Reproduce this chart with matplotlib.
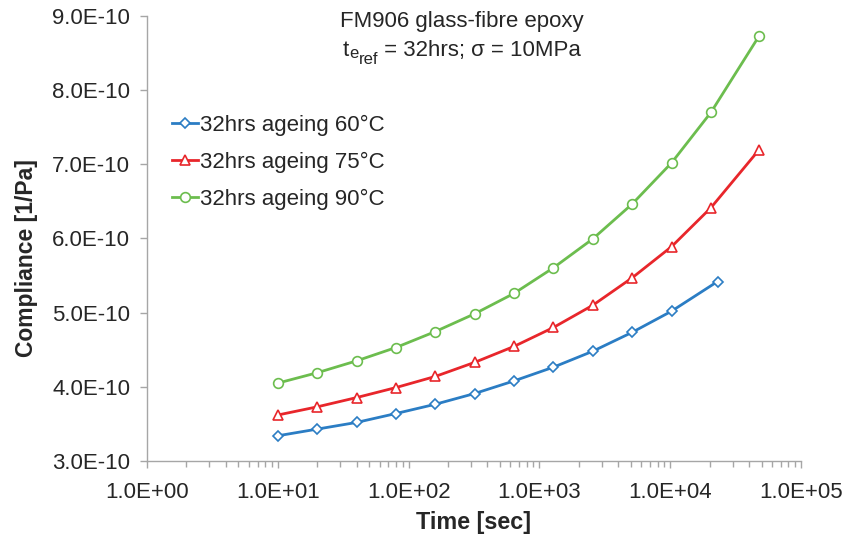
import matplotlib
matplotlib.use("Agg")
import matplotlib.pyplot as plt
from matplotlib.transforms import IdentityTransform
from matplotlib.ticker import FixedLocator, FuncFormatter, LogLocator, NullFormatter

plt.rcParams["font.family"] = ["Liberation Sans", "DejaVu Sans"]

# Creep compliance of FM906 glass-fibre epoxy after 32 hrs ageing
time_60 = [10, 20, 40, 80, 160, 320, 640, 1280, 2560, 5120, 10240, 23000]
comp_60 = [3.34, 3.43, 3.52, 3.64, 3.765, 3.91, 4.08, 4.265, 4.48, 4.735, 5.02, 5.42]

time_75 = [10, 20, 40, 80, 160, 320, 640, 1280, 2560, 5120, 10240, 20480, 48000]
comp_75 = [3.62, 3.73, 3.855, 3.99, 4.14, 4.33, 4.545, 4.80, 5.10, 5.47, 5.89, 6.415, 7.20]

time_90 = [10, 20, 40, 80, 160, 320, 640, 1280, 2560, 5120, 10240, 20480, 48000]
comp_90 = [4.05, 4.19, 4.35, 4.53, 4.745, 4.985, 5.26, 5.605, 5.995, 6.465, 7.02, 7.70, 8.735]

scale = 1e-10
labels = ["32hrs ageing 60°C", "32hrs ageing 75°C", "32hrs ageing 90°C"]
colors = ["#2b7dc4", "#e8262b", "#6cbd4e"]
markers = ["D", "^", "o"]
msizes = [5.0, 7.0, 7.0]

y_ticks = [3e-10, 4e-10, 5e-10, 6e-10, 7e-10, 8e-10, 9e-10]
x_ticks = [1e0, 1e1, 1e2, 1e3, 1e4, 1e5]

W, H = 847, 535
txt_col = "#262626"

fig = plt.figure(figsize=(W / 100, H / 100), dpi=100)
ax = fig.add_axes([147 / W, 1 - 461 / H, 654 / W, 445 / H])

series = [(time_60, comp_60), (time_75, comp_75), (time_90, comp_90)]
for (t, c), lab, col, mk, ms in zip(series, labels, colors, markers, msizes):
    ax.plot(t, [v * scale for v in c], color=col, lw=2.0, marker=mk, ms=ms,
            mfc="white", mec=col, mew=1.2, label=lab)

ax.set_xscale("log")
ax.set_xlim(1e0, 1e5)
ax.set_ylim(3e-10, 9e-10)

ax.xaxis.set_major_locator(FixedLocator(x_ticks))
ax.xaxis.set_minor_locator(LogLocator(base=10, subs=range(2, 10), numticks=20))
ax.xaxis.set_minor_formatter(NullFormatter())
ax.xaxis.set_major_formatter(FuncFormatter(lambda v, p: f"{v:.1E}"))
ax.yaxis.set_major_locator(FixedLocator(y_ticks))
ax.yaxis.set_major_formatter(FuncFormatter(lambda v, p: f"{v:.1E}"))

axis_col = "#a6a6a6"
for side in ["top", "right"]:
    ax.spines[side].set_visible(False)
for side in ["left", "bottom"]:
    ax.spines[side].set_color(axis_col)
    ax.spines[side].set_linewidth(1.0)

ax.tick_params(axis="both", which="major", direction="out", length=5, width=1,
               color=axis_col, labelsize=16, labelcolor=txt_col)
ax.tick_params(axis="x", which="major", pad=10)
ax.tick_params(axis="y", which="major", pad=7)
ax.tick_params(axis="x", which="minor", direction="out", length=4, width=1, color=axis_col)

ax.set_xlabel("Time [sec]", fontsize=16.8, fontweight="bold", color=txt_col, labelpad=6)
ax.set_ylabel("Compliance [1/Pa]", fontsize=16.5, fontweight="bold", color=txt_col)
ax.yaxis.set_label_coords((38 - 147) / 654, (461 - 258) / 445)

# Title, first line
fig.text(462 / W, 1 - 22 / H, "FM906 glass-fibre epoxy", ha="center", va="center",
         fontsize=16, color=txt_col)

# Title, second line with stacked subscripts, assembled piece by piece
pieces = [("t", 16, 0), ("e", 12, -2.5), ("ref", 12, -8), (" = 32hrs; σ = 10MPa", 16, 0)]
baseline = H - 56
texts = [fig.text(0, baseline + dy, s, fontsize=fs, color=txt_col, ha="left",
                  va="baseline", transform=IdentityTransform())
         for s, fs, dy in pieces]
renderer = fig.canvas.get_renderer()
widths = [t.get_window_extent(renderer).width for t in texts]
x = 462 - sum(widths) / 2
for t, w, (s, fs, dy) in zip(texts, widths, pieces):
    t.set_position((x, baseline + dy))
    x += w

leg = fig.legend(loc="upper left", bbox_to_anchor=(172 / W, 1 - 115 / H),
                 frameon=False, fontsize=16, handlelength=1.15, handletextpad=0.1,
                 labelspacing=0.71, borderpad=0, borderaxespad=0)
for t in leg.get_texts():
    t.set_color(txt_col)

fig.savefig("out.png", dpi=100)
